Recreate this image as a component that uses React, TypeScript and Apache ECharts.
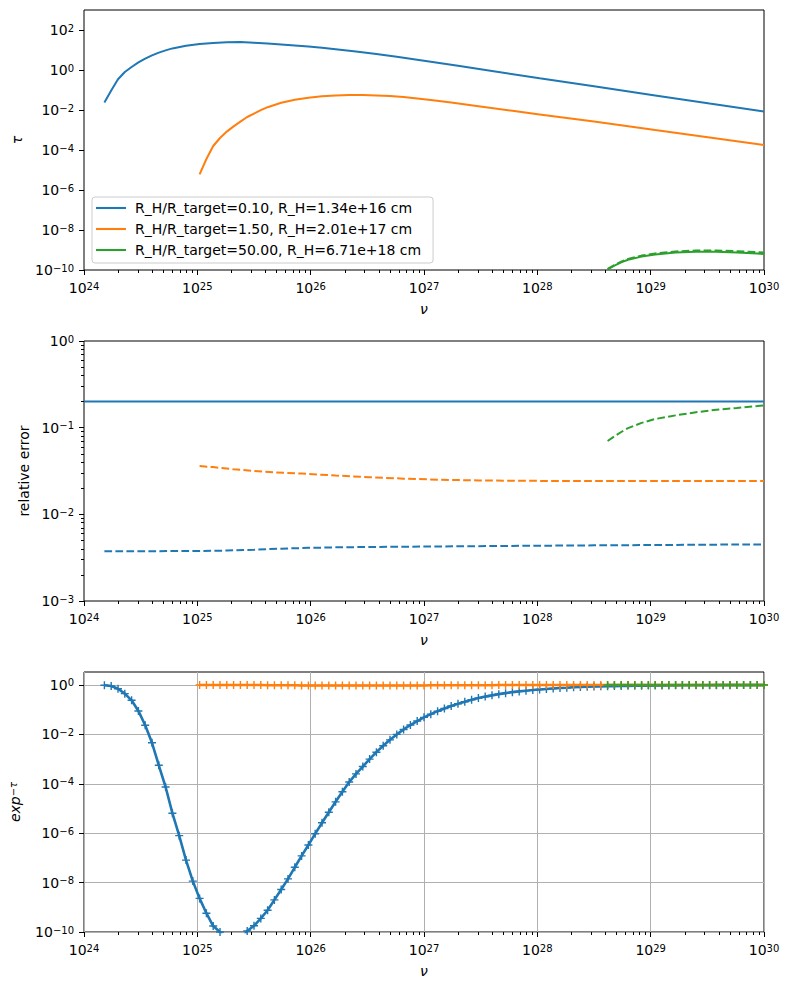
import React, { useEffect, useRef } from 'react';
import * as echarts from 'echarts';

const FONT = 'DejaVu Sans';
const BLUE = '#1f77b4';
const ORANGE = '#ff7f0e';
const GREEN = '#2ca02c';

const legendNames = [
  'R_H/R_target=0.10, R_H=1.34e+16 cm',
  'R_H/R_target=1.50, R_H=2.01e+17 cm',
  'R_H/R_target=50.00, R_H=6.71e+18 cm',
];

// Tick positions (decades, i.e. log10 of the value)
const xMajorTicks = [24, 25, 26, 27, 28, 29, 30];
const y1MajorTicks = [-10, -8, -6, -4, -2, 0, 2];
const y2MajorTicks = [-3, -2, -1, 0];
const y3MajorTicks = [-10, -8, -6, -4, -2, 0];

// Frequency sampling of the markers (log10 ν)
const nuLog10 = [
  24.18, 24.24, 24.30, 24.36, 24.42, 24.48, 24.54, 24.60, 24.66, 24.72, 24.78, 24.84, 24.90, 24.96,
  25.02, 25.08, 25.14, 25.20, 25.26, 25.32, 25.38, 25.44, 25.50, 25.56, 25.62, 25.68, 25.74, 25.80, 25.86, 25.92, 25.98,
  26.04, 26.10, 26.16, 26.22, 26.28, 26.34, 26.40, 26.46, 26.52, 26.58, 26.64, 26.70, 26.76, 26.82, 26.88, 26.94,
  27.00, 27.06, 27.12, 27.18, 27.24, 27.30, 27.36, 27.42, 27.48, 27.54, 27.60, 27.66, 27.72, 27.78, 27.84, 27.90, 27.96,
  28.02, 28.08, 28.14, 28.20, 28.26, 28.32, 28.38, 28.44, 28.50, 28.56, 28.62, 28.68, 28.74, 28.80, 28.86, 28.92, 28.98,
  29.04, 29.10, 29.16, 29.22, 29.28, 29.34, 29.40, 29.46, 29.52, 29.58, 29.64, 29.70, 29.76, 29.82, 29.88, 29.94,
  30.00,
];

// ---- Panel 1: optical depth τ (log10 τ) ----
const tauBlueNu = [24.18, 24.24, 24.30, 24.36, 24.42, 24.48, 24.54, 24.60, 24.66, 24.72, 24.78, 24.90, 25.02, 25.14, 25.26, 25.38, 25.50, 25.62, 25.74, 25.86, 25.98, 26.10, 26.22, 26.40, 26.58, 26.76, 27.00, 27.30, 27.60, 28.02, 28.50, 29.04, 29.52, 30.00];
const tauBlueLog10 = [-1.63, -1.03, -0.46, -0.10, 0.15, 0.38, 0.57, 0.73, 0.87, 0.98, 1.08, 1.21, 1.30, 1.35, 1.39, 1.40, 1.36, 1.32, 1.28, 1.23, 1.17, 1.11, 1.04, 0.92, 0.80, 0.66, 0.46, 0.21, -0.05, -0.41, -0.81, -1.27, -1.68, -2.08];

const tauOrangeNu = [25.02, 25.08, 25.14, 25.20, 25.26, 25.32, 25.38, 25.44, 25.50, 25.56, 25.62, 25.74, 25.86, 25.98, 26.10, 26.22, 26.34, 26.46, 26.58, 26.70, 26.82, 26.94, 27.06, 27.24, 27.48, 27.78, 28.02, 28.50, 29.04, 29.52, 30.00];
const tauOrangeLog10 = [-5.22, -4.45, -3.80, -3.40, -3.08, -2.82, -2.58, -2.35, -2.18, -2.01, -1.86, -1.64, -1.49, -1.39, -1.31, -1.27, -1.25, -1.25, -1.27, -1.30, -1.35, -1.42, -1.50, -1.63, -1.81, -2.04, -2.22, -2.58, -3.00, -3.37, -3.75];

const tauGreenNu = [28.62, 28.68, 28.74, 28.80, 28.92, 29.04, 29.22, 29.40, 29.58, 29.76, 29.94, 30.00];
const tauGreenLog10 = [-9.97, -9.78, -9.62, -9.49, -9.33, -9.22, -9.13, -9.09, -9.09, -9.13, -9.18, -9.20];
const tauGreenApproxLog10 = [-9.94, -9.75, -9.58, -9.45, -9.28, -9.17, -9.07, -9.03, -9.02, -9.06, -9.11, -9.13];

// ---- Panel 2: relative error (log10) ----
const errTolNu = [24, 30];
const errTolLog10 = [-0.699, -0.699];
const errBlueNu = [24.18, 24.60, 25.02, 25.26, 25.50, 25.74, 25.98, 26.22, 26.58, 27.00, 27.48, 28.02, 28.50, 29.04, 29.52, 30.00];
const errBlueLog10 = [-2.425, -2.425, -2.423, -2.418, -2.408, -2.396, -2.387, -2.381, -2.376, -2.372, -2.367, -2.362, -2.358, -2.354, -2.350, -2.347];
const errOrangeNu = [25.02, 25.14, 25.32, 25.50, 25.68, 25.92, 26.22, 26.52, 26.82, 27.12, 27.48, 28.02, 28.50, 29.04, 30.00];
const errOrangeLog10 = [-1.443, -1.455, -1.480, -1.500, -1.515, -1.530, -1.552, -1.572, -1.588, -1.600, -1.609, -1.614, -1.616, -1.616, -1.616];
const errGreenNu = [28.62, 28.68, 28.74, 28.80, 28.92, 29.04, 29.22, 29.40, 29.58, 29.76, 29.94, 30.00];
const errGreenLog10 = [-1.154, -1.100, -1.050, -1.005, -0.945, -0.900, -0.858, -0.822, -0.793, -0.772, -0.750, -0.742];

// ---- Panel 3: exp(-τ) at every sampled ν (log10), aligned to the end of nuLog10 ----
const expBlueLog10 = [
  -0.01, -0.04, -0.15, -0.35, -0.62, -1.05, -1.63, -2.34, -3.25, -4.13, -5.19, -6.10, -7.09, -7.94,
  -8.64, -9.24, -9.76, -10.0, -10.4, -10.6, -10.4, -9.96, -9.75, -9.45, -9.12, -8.70, -8.28, -7.85, -7.38, -6.92, -6.48,
  -6.02, -5.58, -5.15, -4.73, -4.32, -3.93, -3.60, -3.30, -3.00, -2.72, -2.46, -2.22, -2.00, -1.80, -1.62, -1.46,
  -1.31, -1.18, -1.06, -0.95, -0.85, -0.76, -0.68, -0.60, -0.53, -0.47, -0.42, -0.37, -0.33, -0.29, -0.26, -0.23, -0.20,
  -0.18, -0.16, -0.14, -0.12, -0.11, -0.09, -0.08, -0.07, -0.06, -0.055, -0.05, -0.045, -0.04, -0.035, -0.03, -0.027, -0.024,
  -0.021, -0.019, -0.017, -0.015, -0.013, -0.012, -0.010, -0.009, -0.008, -0.007, -0.006, -0.0055, -0.005, -0.0045, -0.004, -0.0037,
  -0.0035,
];
const expOrangeLog10 = [
  0, 0, 0, 0, 0, 0, 0, 0, 0, 0,
  -0.01, -0.01, -0.01, -0.01, -0.01,
  -0.02, -0.02, -0.02, -0.02, -0.02, -0.02, -0.02, -0.02, -0.02, -0.02, -0.02, -0.02, -0.02, -0.02, -0.02, -0.02, -0.02, -0.02, -0.02,
  -0.01, -0.01, -0.01, -0.01, -0.01, -0.01, -0.01, -0.01, -0.01, -0.01,
  0, 0, 0, 0, 0, 0, 0, 0, 0, 0, 0, 0, 0, 0, 0, 0, 0, 0, 0, 0,
  0, 0, 0, 0, 0, 0, 0, 0, 0, 0, 0, 0, 0, 0, 0, 0, 0, 0, 0, 0,
];
const expGreenLog10 = [
  0, 0, 0, 0, 0, 0, 0, 0, 0, 0, 0, 0,
  0, 0, 0, 0, 0, 0, 0, 0, 0, 0, 0, 0,
];

const zip = (xs: number[], ys: number[]) => ys.map((y, i) => [xs[i], y]);
const tailZip = (ys: number[]) => zip(nuLog10.slice(nuLog10.length - ys.length), ys);

function minorTicks(from: number, to: number) {
  const out: number[] = [];
  for (let d = from; d < to; d++) {
    for (let k = 2; k <= 9; k++) out.push(d + Math.log10(k));
  }
  return out;
}

const powLabel = (v: number) => {
  const n = Math.round(v);
  return `{b|10}{s|${n < 0 ? '\u2212' + Math.abs(n) : n}}`;
};

const rich = {
  b: { fontSize: 14, lineHeight: 14, verticalAlign: 'bottom', fontFamily: FONT, color: '#000' },
  s: { fontSize: 10, lineHeight: 10, verticalAlign: 'top', padding: [0, 0, 6, 0], fontFamily: FONT, color: '#000' },
};

const DASH = [7.7, 3.3];
const PLUS = 'path://M4,0L4,8M0,4L8,4';
const LEGEND_LINE = 'path://M0,0L30,0L30,2.1L0,2.1Z';

function buildOption() {
  const panels = [
    { top: 10, ymin: -10, ymax: 3, yint: 2, yTicks: y1MajorTicks, yMinor: [] as number[], grid: false,
      yName: 'τ', yNameGap: 56, yNameStyle: { fontStyle: 'italic' } },
    { top: 341, ymin: -3, ymax: 0, yint: 1, yTicks: y2MajorTicks, yMinor: minorTicks(-3, 0), grid: false,
      yName: 'relative error', yNameGap: 50, yNameStyle: {} },
    { top: 672, ymin: -10, ymax: 0.526, yint: 2, yTicks: y3MajorTicks, yMinor: [] as number[], grid: true,
      yName: '{e|exp}{t|\u2212τ}', yNameGap: 58, yNameStyle: {} },
  ];
  const xMinor = minorTicks(24, 30);
  const grids: any[] = [];
  const xAxes: any[] = [];
  const yAxes: any[] = [];
  const gridLine = { show: true, lineStyle: { color: '#b0b0b0', width: 1 } };
  panels.forEach((p, i) => {
    const rect = { left: 84, top: p.top, width: 680, height: 260 };
    grids.push({ ...rect, show: true, borderColor: '#000', borderWidth: 1, backgroundColor: 'transparent' });
    grids.push({ ...rect, show: false });
    xAxes.push({
      type: 'value', gridIndex: 2 * i, min: 24, max: 30, interval: 1,
      axisLine: { show: false, onZero: false },
      axisTick: { show: true, length: 5, lineStyle: { color: '#000', width: 1 }, customValues: xMajorTicks },
      axisLabel: { show: true, margin: 11, formatter: powLabel, rich, customValues: xMajorTicks },
      splitLine: p.grid ? gridLine : { show: false },
      name: 'ν', nameLocation: 'middle', nameGap: 32,
      nameTextStyle: { fontFamily: FONT, fontSize: 14, fontStyle: 'italic', color: '#000' },
    });
    xAxes.push({
      type: 'value', gridIndex: 2 * i + 1, min: 24, max: 30,
      axisLine: { show: false, onZero: false },
      axisTick: { show: true, length: 3, lineStyle: { color: '#000', width: 1 }, customValues: xMinor },
      axisLabel: { show: false },
      splitLine: { show: false },
    });
    yAxes.push({
      type: 'value', gridIndex: 2 * i, min: p.ymin, max: p.ymax, interval: p.yint,
      axisLine: { show: false, onZero: false },
      axisTick: { show: true, length: 5, lineStyle: { color: '#000', width: 1 }, customValues: p.yTicks },
      axisLabel: { show: true, margin: 10, formatter: powLabel, rich, customValues: p.yTicks },
      splitLine: p.grid ? gridLine : { show: false },
      name: p.yName, nameLocation: 'middle', nameGap: p.yNameGap, nameRotate: 90,
      nameTextStyle: {
        fontFamily: FONT, fontSize: 14, color: '#000', ...p.yNameStyle,
        rich: {
          e: { fontFamily: FONT, fontSize: 14, fontStyle: 'italic', lineHeight: 14, verticalAlign: 'bottom', color: '#000' },
          t: { fontFamily: FONT, fontSize: 10, fontStyle: 'italic', lineHeight: 10, verticalAlign: 'top', padding: [0, 0, 6, 0], color: '#000' },
        },
      },
    });
    yAxes.push({
      type: 'value', gridIndex: 2 * i + 1, min: p.ymin, max: p.ymax,
      axisLine: { show: false, onZero: false },
      axisTick: { show: p.yMinor.length > 0, length: 3, lineStyle: { color: '#000', width: 1 }, customValues: p.yMinor.length ? p.yMinor : undefined },
      axisLabel: { show: false },
      splitLine: { show: false },
    });
  });

  const base = { type: 'line', symbol: 'none', silent: true, emphasis: { disabled: true }, clip: true };
  const solid = (c: string, w = 2) => ({ color: c, width: w, type: 'solid' });
  const dashed = (c: string) => ({ color: c, width: 2, type: DASH });

  const markerSeries = (name: string, c: string, ys: number[]) => ({
    ...base, name, xAxisIndex: 4, yAxisIndex: 4,
    data: tailZip(ys),
    symbol: PLUS, symbolSize: 8, showSymbol: true, showAllSymbol: true,
    itemStyle: { color: c, borderColor: c, borderWidth: 1.4 },
    lineStyle: solid(c, 2.6),
  });

  const series: any[] = [
    { ...base, name: legendNames[0], xAxisIndex: 0, yAxisIndex: 0, data: zip(tauBlueNu, tauBlueLog10), lineStyle: solid(BLUE), itemStyle: { color: BLUE } },
    { ...base, name: legendNames[1], xAxisIndex: 0, yAxisIndex: 0, data: zip(tauOrangeNu, tauOrangeLog10), lineStyle: solid(ORANGE), itemStyle: { color: ORANGE } },
    { ...base, name: legendNames[2], xAxisIndex: 0, yAxisIndex: 0, data: zip(tauGreenNu, tauGreenLog10), lineStyle: solid(GREEN), itemStyle: { color: GREEN } },
    { ...base, name: 'tau approx 50.00', xAxisIndex: 0, yAxisIndex: 0, data: zip(tauGreenNu, tauGreenApproxLog10), lineStyle: dashed(GREEN), itemStyle: { color: GREEN } },

    { ...base, name: 'tolerance', xAxisIndex: 2, yAxisIndex: 2, data: zip(errTolNu, errTolLog10), lineStyle: solid(BLUE), itemStyle: { color: BLUE } },
    { ...base, name: 'err 0.10', xAxisIndex: 2, yAxisIndex: 2, data: zip(errBlueNu, errBlueLog10), lineStyle: dashed(BLUE), itemStyle: { color: BLUE } },
    { ...base, name: 'err 1.50', xAxisIndex: 2, yAxisIndex: 2, data: zip(errOrangeNu, errOrangeLog10), lineStyle: dashed(ORANGE), itemStyle: { color: ORANGE } },
    { ...base, name: 'err 50.00', xAxisIndex: 2, yAxisIndex: 2, data: zip(errGreenNu, errGreenLog10), lineStyle: dashed(GREEN), itemStyle: { color: GREEN } },

    markerSeries('exp 0.10', BLUE, expBlueLog10),
    markerSeries('exp 1.50', ORANGE, expOrangeLog10),
    markerSeries('exp 50.00', GREEN, expGreenLog10),
  ];

  return {
    animation: false,
    backgroundColor: '#ffffff',
    textStyle: { fontFamily: FONT },
    grid: grids,
    xAxis: xAxes,
    yAxis: yAxes,
    legend: {
      show: true, data: legendNames, orient: 'vertical', left: 92, top: 197,
      icon: LEGEND_LINE, symbolKeepAspect: true,
      padding: [4, 12, 6, 4], itemGap: 7, itemWidth: 30, itemHeight: 14,
      backgroundColor: 'rgba(255,255,255,0.8)', borderColor: '#cccccc', borderWidth: 1, borderRadius: 3,
      textStyle: { fontFamily: FONT, fontSize: 14, color: '#000', padding: [0, 0, 0, 4] },
      selectedMode: false,
    },
    series,
  };
}

export default function App() {
  const ref = useRef<HTMLDivElement>(null);
  useEffect(() => {
    const chart = echarts.init(ref.current as HTMLDivElement, null, { renderer: 'svg' });
    chart.setOption(buildOption() as any);
    return () => chart.dispose();
  }, []);
  return (
    <div
      ref={ref}
      style={{ position: 'fixed', left: 0, top: 0, width: 790, height: 990, background: '#fff' }}
    />
  );
}
